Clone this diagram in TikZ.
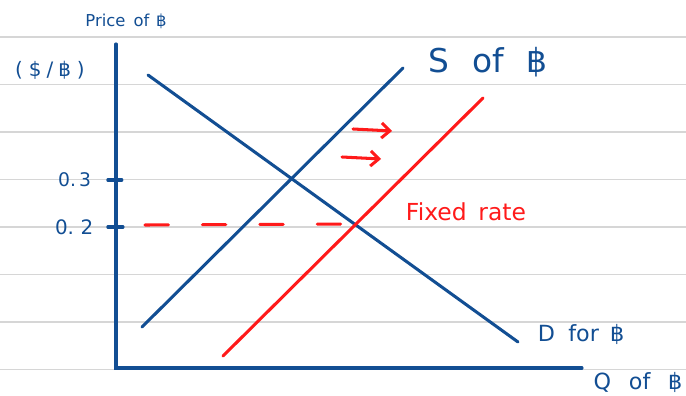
\documentclass[tikz,border=0pt]{standalone}
\usepackage{fontspec}
\setmainfont{DejaVu Sans}
\usetikzlibrary{arrows.meta,positioning}
\definecolor{ink-blue}{HTML}{124E93}
\definecolor{ink-red}{HTML}{FF1A1A}
\definecolor{paper-line}{HTML}{D6D6D6}

\begin{document}
\begin{tikzpicture}[x=0.03cm, y=-0.03cm, line width=2.6pt, line cap=round,
    lbl/.style={ink-blue, inner sep=0pt},
    shift arrow/.style={ink-red, -{Straight Barb[length=7pt, width=13pt]}}]
    \useasboundingbox (0,0) rectangle (686,396);
    % ruled paper
    \foreach \y in {37,84.5,...,370} \draw[paper-line, line width=1pt, line cap=butt] (0,\y) -- (686,\y);
    % axes
    \coordinate (ytop) at (116,44); \coordinate (origin) at (116,368); \coordinate (xend) at (582,368);
    \draw[ink-blue] (ytop) -- (origin) -- (xend);
    \coordinate (p3) at (116,180); \coordinate (p2) at (116,227);
    \draw[ink-blue] ([xshift=-7]p3) -- ([xshift=5]p3);
    \draw[ink-blue] ([xshift=-7]p2) -- ([xshift=6]p2);
    \node[lbl, font=\fontsize{14}{14}\selectfont] (price) at (126,21) {Price\hspace{0.5em}of\hspace{0.4em}฿};
    \node[lbl, font=\fontsize{17}{17}\selectfont] (unit) at (50,70) {(\hspace{0.3em}\$\hspace{0.25em}/\hspace{0.25em}฿\hspace{0.3em})};
    \node[lbl, font=\fontsize{16}{16}\selectfont, left=20pt of p3] (v3) {0.\,3};
    \node[lbl, font=\fontsize{17}{17}\selectfont, left=18pt of p2] (v2) {0.\,\,2};
    % curves
    \coordinate (d1) at (148,75); \coordinate (d2) at (518,342);
    \coordinate (s1) at (142,327); \coordinate (s2) at (403,68);
    \coordinate (r1) at (223,356); \coordinate (r2) at (483,98);
    \draw[ink-blue] (d1) -- (d2);
    \draw[ink-blue] (s1) -- (s2);
    \draw[ink-red] (r1) -- (r2);
    \coordinate (fix1) at (145,225); \coordinate (fix2) at (355,224);
    \draw[ink-red, dash pattern=on 20pt off 29pt, line cap=round] (fix1) -- (fix2);
    % shift arrows
    \coordinate (a1) at (353,129); \coordinate (b1) at (392,131);
    \coordinate (a2) at (342,157); \coordinate (b2) at (381,159);
    \draw[shift arrow] (a1) -- (b1);
    \draw[shift arrow] (a2) -- (b2);
    % labels
    \node[lbl, font=\fontsize{28}{28}\selectfont] (slabel) at (488,62) {S\hspace{0.7em}of\hspace{0.7em}฿};
    \node[lbl, ink-red, font=\fontsize{20}{20}\selectfont] (fixed) at (466,212) {Fixed\hspace{0.5em}rate};
    \node[lbl, font=\fontsize{19}{19}\selectfont] (dlabel) at (581,334) {D\hspace{0.6em}for\hspace{0.5em}฿};
    \node[lbl, font=\fontsize{19}{19}\selectfont] (qlabel) at (638,382) {Q\hspace{0.8em}of\hspace{0.8em}฿};
\end{tikzpicture}
\end{document}
